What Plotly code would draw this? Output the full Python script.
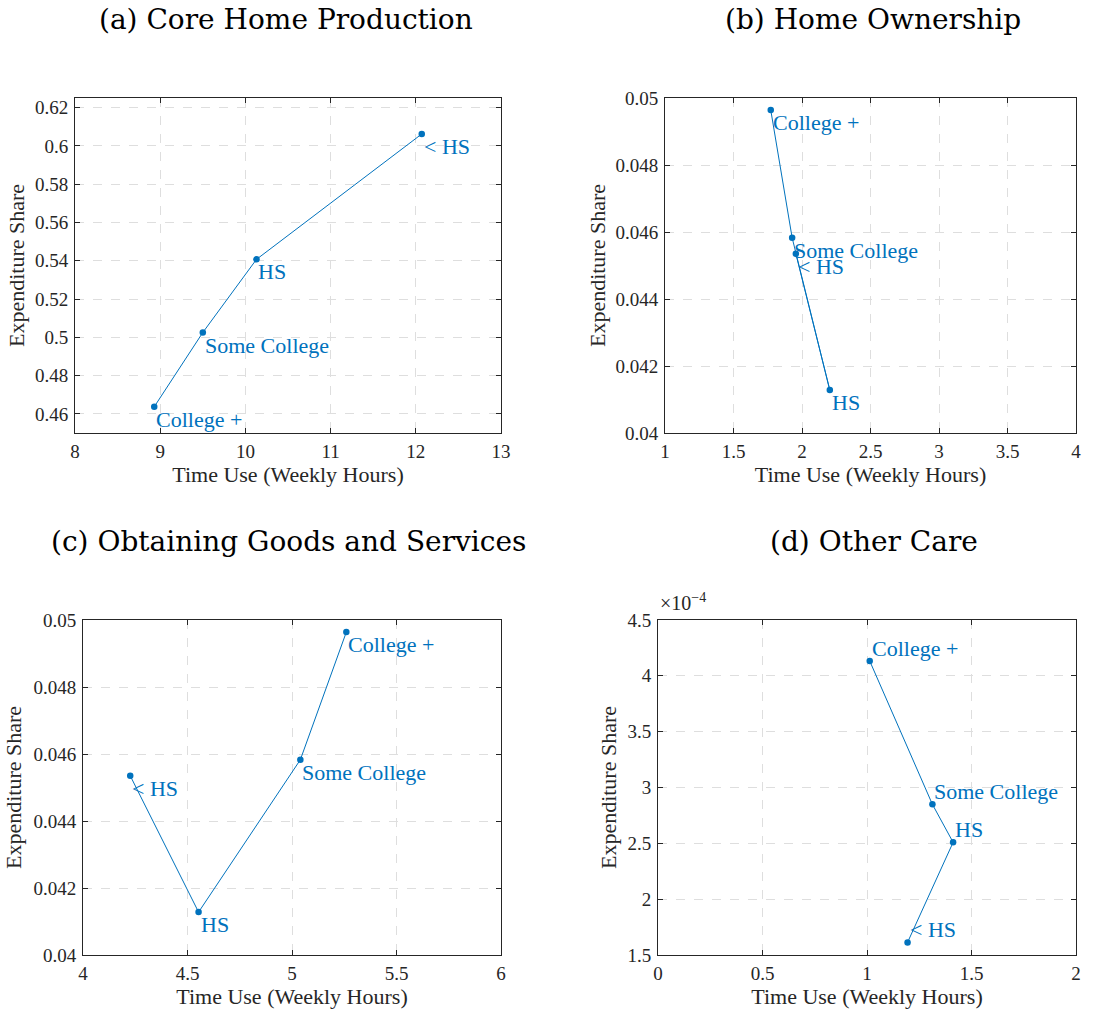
import plotly.graph_objects as go

# ---------------- data ----------------
groups = ["< HS", "HS", "Some College", "College +"]

core_time = [12.07, 10.13, 9.50, 8.93]
core_share = [0.6062, 0.5407, 0.5025, 0.4637]

own_time = [1.955, 2.203, 1.928, 1.772]
own_share = [0.04535, 0.04128, 0.04583, 0.04964]

goods_time = [4.226, 4.553, 5.040, 5.260]
goods_share = [0.04535, 0.04128, 0.04583, 0.04964]

care_time = [1.194, 1.412, 1.313, 1.013]
care_share = [1.613e-4, 2.509e-4, 2.849e-4, 4.133e-4]

panel_titles = ["(a) Core Home Production", "(b) Home Ownership",
                "(c) Obtaining Goods and Services", "(d) Other Care"]
x_title = "Time Use (Weekly Hours)"
y_title = "Expenditure Share"

care_tickvals = [1.5e-4, 2.0e-4, 2.5e-4, 3.0e-4, 3.5e-4, 4.0e-4, 4.5e-4]
care_ticktext = ["1.5", "2", "2.5", "3", "3.5", "4", "4.5"]
care_exponent = "×10<sup>−4</sup>"

# ---------------- layout helpers ----------------
W, H = 1110, 1013
BLUE = "#0072BD"
DARK = "#262626"
GRID = "#dedede"
SERIF = "Liberation Serif, Times New Roman, serif"
TITLEFONT = "DejaVu Serif, serif"


def xd(l, r):
    return [l / W, r / W]


def yd(t, b):
    return [1 - b / H, 1 - t / H]


panels = [
    dict(t=core_time, s=core_share, xdom=xd(75, 501), ydom=yd(98, 433),
         xr=[8, 13], xdt=1, yr=[0.45, 0.625], ydt=0.02, below=True,
         title_xy=(286, 19), ystand=4),
    dict(t=own_time, s=own_share, xdom=xd(665, 1076), ydom=yd(98, 433),
         xr=[1, 4], xdt=0.5, yr=[0.04, 0.05], ydt=0.002, below=True,
         title_xy=(873, 19), ystand=3),
    dict(t=goods_time, s=goods_share, xdom=xd(83, 501), ydom=yd(620, 955),
         xr=[4, 6], xdt=0.5, yr=[0.04, 0.05], ydt=0.002, below=True,
         title_xy=(288, 541), ystand=5),
    dict(t=care_time, s=care_share, xdom=xd(658, 1076), ydom=yd(620, 955),
         xr=[0, 2], xdt=0.5, yr=[1.5e-4, 4.5e-4], ydt=None, below=False,
         title_xy=(874, 541), ystand=4),
]

fig = go.Figure()
annotations = []

for i, p in enumerate(panels):
    n = "" if i == 0 else str(i + 1)
    xa, ya = "x" + n, "y" + n
    fig.add_trace(go.Scatter(
        x=p["t"], y=p["s"], mode="lines+markers",
        line=dict(color=BLUE, width=1),
        marker=dict(color=BLUE, size=6.5),
        xaxis=xa, yaxis=ya, showlegend=False, hoverinfo="x+y"))

    for gx, gy, g in zip(p["t"], p["s"], groups):
        annotations.append(dict(
            x=gx, y=gy, xref=xa, yref=ya,
            text=g.replace("< ", "&lt;&nbsp;"),
            showarrow=False, xanchor="left",
            yanchor="top" if p["below"] else "bottom",
            yshift=2 if p["below"] else -2,
            font=dict(family=SERIF, size=22, color=BLUE)))

    tx, ty = p["title_xy"]
    annotations.append(dict(
        x=tx / W, y=1 - ty / H, xref="paper", yref="paper",
        text=panel_titles[i], showarrow=False, xanchor="center",
        yanchor="middle", font=dict(family=TITLEFONT, size=28, color="black")))

    common = dict(
        showline=True, linecolor=DARK, linewidth=1, mirror="ticks",
        ticks="inside", ticklen=5, tickcolor=DARK, tickwidth=1,
        showgrid=True, gridcolor=GRID, griddash="dash", gridwidth=1,
        zeroline=False, automargin=False,
        tickfont=dict(family=SERIF, size=19, color=DARK),
        title_font=dict(family=SERIF, size=22, color=DARK))

    xaxis = dict(common, domain=p["xdom"], range=p["xr"], dtick=p["xdt"],
                 tick0=0, anchor=ya, ticklabelstandoff=1,
                 title=dict(text=x_title, standoff=5))
    yaxis = dict(common, domain=p["ydom"], range=p["yr"], anchor=xa,
                 ticklabelstandoff=2,
                 title=dict(text=y_title, standoff=p["ystand"]))
    if p["ydt"] is not None:
        yaxis.update(dtick=p["ydt"], tick0=0)
    else:
        yaxis.update(tickmode="array", tickvals=care_tickvals,
                     ticktext=care_ticktext)

    fig.update_layout(**{"xaxis" + n: xaxis, "yaxis" + n: yaxis})

# exponent label for panel (d)
annotations.append(dict(
    x=658 / W, y=1 - 616 / H, xref="paper", yref="paper",
    text=care_exponent, showarrow=False, xanchor="left", yanchor="bottom",
    font=dict(family=SERIF, size=20, color=DARK)))

fig.update_layout(
    width=W, height=H, margin=dict(l=0, r=0, t=0, b=0),
    paper_bgcolor="white", plot_bgcolor="white",
    annotations=annotations, showlegend=False)

fig.write_html(
    "out.html",
    config={"displayModeBar": False},
    post_script="document.body.style.margin='0';"
                "document.body.style.overflow='hidden';")
